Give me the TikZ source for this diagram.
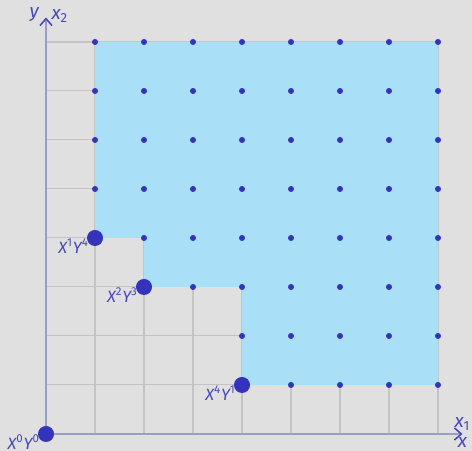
\documentclass[tikz,border=0pt]{standalone}
\usepackage{fontspec}
\setmainfont{Fira Sans}
\usepackage{xcolor}
\usetikzlibrary{arrows.meta}

\definecolor{bgGrey}{HTML}{E0E0E0}
\definecolor{gridGrey}{HTML}{C4C4C4}
\definecolor{regionBlue}{HTML}{AADFF8}
\definecolor{dotBlue}{HTML}{3333BB}
\definecolor{axisLine}{HTML}{9C9CCC}
\definecolor{labelBlue}{HTML}{4848B8}

\tikzset{
  axis/.style={axisLine, line width=0.9pt, -{Straight Barb[color=labelBlue, length=4pt, width=7pt]}},
  cornerdot/.style={circle, fill=dotBlue, inner sep=0pt, minimum size=9.3pt},
  monolabel/.style={text=labelBlue, font=\fontsize{9.5}{11}\selectfont\itshape, inner sep=0pt, anchor=east},
  axislabel/.style={text=labelBlue, font=\fontsize{11}{13}\selectfont\itshape, inner sep=0pt}
}

\begin{document}
\begin{tikzpicture}
  % Background
  \fill[bgGrey] (-0.939,-0.347) rectangle (8.694,8.857);
  \useasboundingbox (-0.939,-0.347) rectangle (8.694,8.857);

  % Grid
  \draw[gridGrey, line width=0.6pt] (0,0) grid (8,8);

  % Region above the staircase
  \fill[regionBlue] (1,8) -- (8,8) -- (8,1) -- (4,1) -- (4,3) -- (2,3) -- (2,4) -- (1,4) -- cycle;

  % Axes
  \coordinate (O) at (0,0);
  \coordinate (xend) at (8.5,0);
  \coordinate (yend) at (0,8.5);
  \draw[axis] (O) -- (xend);
  \draw[axis] (O) -- (yend);
  \node[axislabel, anchor=south] (xone) at ([yshift=2pt]xend) {x\textsubscript{\upshape 1}};
  \node[axislabel, anchor=north] (xlab) at ([yshift=-2pt]xend) {x};
  \node[axislabel, anchor=east] (ylab) at ([xshift=-4pt, yshift=2pt]yend) {y};
  \node[axislabel, anchor=west] (xtwo) at ([xshift=3pt, yshift=1pt]yend) {x\textsubscript{\upshape 2}};

  % Lattice points of the region
  \foreach \i/\jmin in {1/4,2/3,3/3,4/1,5/1,6/1,7/1,8/1} {
    \foreach \j in {\jmin,...,8} {
      \fill[dotBlue] (\i,\j) circle (1.75pt);
    }
  }

  % Generators
  \foreach \name/\i/\j/\a/\b in {m00/0/0/0/0,m14/1/4/1/4,m23/2/3/2/3,m41/4/1/4/1} {
    \node[cornerdot] (\name) at (\i,\j) {};
    \node[monolabel] (l\name) at ([xshift=-0.12cm, yshift=-0.17cm]\name.center)
      {X\textsuperscript{\upshape\a}Y\textsuperscript{\upshape\b}};
  }
\end{tikzpicture}
\end{document}
